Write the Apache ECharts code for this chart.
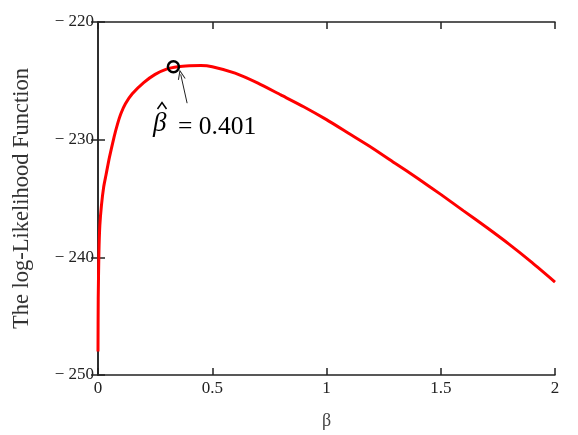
<!DOCTYPE html>
<html><head><meta charset="utf-8">
<script src="https://cdn.jsdelivr.net/npm/echarts@6/dist/echarts.min.js"></script>
<style>html,body{margin:0;padding:0;background:#fff}#c{width:578px;height:435px}</style>
</head><body><div id="c"></div>
<script>
const betaValues = [0, 0.001, 0.004, 0.008, 0.015, 0.025, 0.035, 0.05, 0.07, 0.085, 0.1, 0.12, 0.15, 0.2, 0.25, 0.3, 0.35, 0.4, 0.45, 0.5, 0.6, 0.7, 0.8, 0.9, 1.0, 1.1, 1.2, 1.3, 1.4, 1.5, 1.6, 1.7, 1.8, 1.9, 2.0];
const logLik = [-248, -243.5, -239.6, -237.3, -235.6, -234.0, -233.0, -231.5, -229.8, -228.7, -227.8, -226.95, -226.1, -225.15, -224.45, -224.0, -223.8, -223.72, -223.70, -223.8, -224.35, -225.2, -226.2, -227.2, -228.3, -229.5, -230.7, -232.0, -233.3, -234.65, -236.05, -237.45, -238.9, -240.45, -242.1];
const xTicks = [0, 0.5, 1, 1.5, 2];
const yTicks = [-250, -240, -230, -220];
const mlePoint = [0.33, -223.8];
const arrowTip = [0.362, -224.45];
const arrowTail = [0.39, -226.9];
const annotationText = '= 0.401';

const serif = 'Liberation Serif';
const chart = echarts.init(document.getElementById('c'), null, {renderer: 'canvas'});
const axisLineStyle = {color: '#222', width: 1.5};
const tickStyle = {show: true, inside: true, length: 7, lineStyle: {color: '#222', width: 1.5}};
const fmtY = v => (v < 0 ? '\u2212 ' + Math.abs(v) : String(v));
chart.setOption({
  animation: false,
  backgroundColor: '#fff',
  grid: {left: 98, right: 23, top: 22, bottom: 59},
  xAxis: [{
    type: 'value', min: xTicks[0], max: xTicks[xTicks.length - 1], interval: 0.5,
    axisLine: {show: true, lineStyle: axisLineStyle},
    axisTick: tickStyle, splitLine: {show: false},
    axisLabel: {color: '#222', fontFamily: serif, fontSize: 17, margin: 5, formatter: v => String(v)},
    name: 'β', nameLocation: 'middle', nameGap: 37,
    nameTextStyle: {color: '#444', fontFamily: serif, fontSize: 18}
  }, {
    type: 'value', position: 'top', min: xTicks[0], max: xTicks[xTicks.length - 1], interval: 0.5,
    axisLine: {show: true, lineStyle: axisLineStyle},
    axisTick: tickStyle, axisLabel: {show: false}, splitLine: {show: false}
  }],
  yAxis: [{
    type: 'value', min: yTicks[0], max: yTicks[yTicks.length - 1], interval: 10,
    axisLine: {show: true, lineStyle: axisLineStyle},
    axisTick: tickStyle, splitLine: {show: false},
    axisLabel: {color: '#222', fontFamily: serif, fontSize: 17, margin: 4, formatter: fmtY},
    name: 'The log-Likelihood Function', nameLocation: 'middle', nameGap: 64, nameRotate: 90,
    nameTextStyle: {color: '#333', fontFamily: serif, fontSize: 22.5}
  }, {
    type: 'value', position: 'right', min: yTicks[0], max: yTicks[yTicks.length - 1], interval: 10,
    axisLine: {show: true, lineStyle: axisLineStyle},
    axisTick: tickStyle, axisLabel: {show: false}, splitLine: {show: false}
  }],
  series: [{
    type: 'line', xAxisIndex: 0, yAxisIndex: 0,
    data: betaValues.map((b, i) => [b, logLik[i]]),
    showSymbol: false, smooth: 0.2,
    lineStyle: {color: '#ff0000', width: 3},
    z: 3,
    markLine: {
      silent: true,
      symbol: ['path://M0,10 L5,0 L10,10 L8.6,10 L5,2.6 L1.4,10 Z', 'none'],
      symbolSize: [8, 10],
      itemStyle: {color: '#222'},
      lineStyle: {color: '#222', width: 1, type: 'solid'},
      label: {show: false},
      data: [[{coord: arrowTip}, {coord: arrowTail}]]
    },
    markPoint: {
      silent: true, symbol: 'circle', symbolSize: 11,
      itemStyle: {color: 'rgba(255,255,255,0)', borderColor: '#000', borderWidth: 2.5},
      label: {show: false},
      data: [{coord: mlePoint}]
    }
  }],
  graphic: [{
    type: 'text', left: 153, top: 110, z: 10,
    style: {text: 'β', fontFamily: serif, fontStyle: 'italic', fontSize: 27, fill: '#000'}
  }, {
    type: 'polyline', z: 10,
    shape: {points: [[157.5, 109], [162, 102.5], [166.5, 109]]},
    style: {stroke: '#000', lineWidth: 1.5, fill: null}
  }, {
    type: 'text', left: 178, top: 114, z: 10,
    style: {text: annotationText, fontFamily: serif, fontSize: 25.5, fill: '#000'}
  }]
});
</script></body></html>
